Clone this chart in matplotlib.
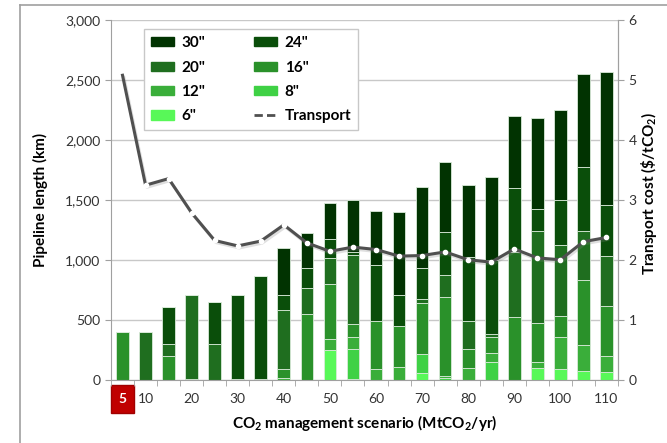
import matplotlib.pyplot as plt
import matplotlib.patheffects as pe
from matplotlib.lines import Line2D
from matplotlib.patches import Patch

plt.rcParams['font.family'] = ['Lato', 'DejaVu Sans']
plt.rcParams['mathtext.fontset'] = 'custom'
plt.rcParams['mathtext.rm'] = 'Lato'
plt.rcParams['mathtext.bf'] = 'Lato:bold'

scenarios = [5, 10, 15, 20, 25, 30, 35, 40, 45, 50, 55,
             60, 65, 70, 75, 80, 85, 90, 95, 100, 105, 110]
tick_labels = ['5', '10', '', '20', '', '30', '', '40', '', '50', '',
               '60', '', '70', '', '80', '', '90', '', '100', '', '110']

# pipeline length (km) by diameter
d6 = [0, 0, 0, 0, 0, 0, 0, 0, 0, 252, 12,
      0, 0, 65, 0, 0, 0, 0, 102, 93, 80, 73]
d8 = [0, 0, 0, 0, 0, 0, 0, 0, 0, 0, 250,
      0, 0, 153, 18, 0, 150, 0, 0, 0, 0, 0]
d12 = [0, 0, 0, 0, 0, 0, 0, 18, 0, 96, 103,
       98, 110, 0, 22, 100, 78, 0, 50, 267, 216, 131]
d16 = [400, 0, 205, 15, 0, 12, 12, 76, 554, 459, 103,
       398, 347, 430, 656, 163, 135, 527, 324, 180, 539, 413]
d20 = [0, 400, 100, 695, 302, 0, 0, 491, 216, 211, 578,
       0, 0, 31, 181, 234, 20, 543, 772, 589, 409, 423]
d24 = [0, 0, 305, 0, 355, 698, 861, 127, 170, 161, 25,
       461, 255, 256, 361, 530, 620, 528, 179, 375, 535, 422]
d30 = [0, 0, 0, 0, 0, 0, 0, 389, 285, 298, 433,
       455, 686, 677, 582, 596, 690, 606, 755, 750, 775, 1108]

# transport cost ($/tCO2)
transport = [5.08, 3.25, 3.36, 2.79, 2.33, 2.24, 2.32, 2.59, 2.29, 2.15, 2.22,
             2.18, 2.07, 2.08, 2.14, 2.01, 1.97, 2.19, 2.04, 2.01, 2.31, 2.38]

series = [('6"', d6, '#58f858'), ('8"', d8, '#3fd145'), ('12"', d12, '#3aae3a'),
          ('16"', d16, '#2a912a'), ('20"', d20, '#1f6e1f'), ('24"', d24, '#0a4e0a'),
          ('30"', d30, '#013301')]

fig = plt.figure(figsize=(6.67, 4.43), dpi=100)
ax = fig.add_axes([0.1664, 0.1411, 0.7601, 0.8138])
x = list(range(len(scenarios)))

bottom = [0] * len(x)
handles = {}
for name, vals, col in series:
    ax.bar(x, vals, 0.55, bottom=bottom, color=col,
           edgecolor='#d9ead9', linewidth=0.6, zorder=2)
    handles[name] = Patch(facecolor=col, edgecolor=col)
    bottom = [p + q for p, q in zip(bottom, vals)]

ax.set_xlim(-0.5, len(x) - 0.5)
ax.set_ylim(0, 3000)
ax.set_yticks(range(0, 3001, 500))
ax.set_yticklabels([f'{v:,}' for v in range(0, 3001, 500)])
ax.grid(axis='y', color='#c8c8c8', linewidth=1, zorder=0)
ax.set_axisbelow(True)
ax.set_xticks(x)
ax.set_xticklabels(tick_labels)
ax.set_xticks([i - 0.5 for i in x] + [len(x) - 0.5], minor=True)
ax.tick_params(axis='x', which='major', length=0, pad=9, labelsize=10, colors='#333333')
ax.tick_params(axis='x', which='minor', length=4, color='#a0a0a0')
ax.tick_params(axis='y', length=4, color='#a0a0a0', labelsize=10, labelcolor='#333333')
ax.spines['top'].set_visible(False)
for s in ['left', 'right', 'bottom']:
    ax.spines[s].set_color('#a0a0a0')

# red box round the first tick label
lbl = ax.get_xticklabels()[0]
lbl.set_color('white')
lbl.set_fontweight('bold')
lbl.set_bbox(dict(boxstyle='square,pad=0.55', facecolor='#c00000', edgecolor='#a00000'))

ax.set_ylabel('Pipeline length (km)', fontsize=11, fontweight='bold')
ax.yaxis.set_label_coords(-0.125, 0.5)
ax.set_xlabel(r'CO$_\mathbf{2}$ management scenario (MtCO$_\mathbf{2}$/yr)',
              fontsize=11, fontweight='bold', labelpad=6)

ax2 = ax.twinx()
ax2.set_ylim(0, 6)
ax2.set_yticks(range(0, 7))
ax2.tick_params(axis='y', length=4, color='#a0a0a0', labelsize=10, labelcolor='#333333')
for s in ['top', 'left', 'bottom']:
    ax2.spines[s].set_visible(False)
ax2.spines['right'].set_color('#a0a0a0')
ax2.plot(x, transport, color='#505050', linewidth=2.2, zorder=3,
         path_effects=[pe.SimpleLineShadow(offset=(1, -1.5), alpha=0.25, shadow_color='gray'),
                       pe.Normal()])
ax2.plot(x[1:], transport[1:], 'o', color='white', markersize=3, zorder=4)
ax2.set_ylabel(r'Transport cost (\$/tCO$_\mathbf{2}$)', fontsize=11, fontweight='bold',
               rotation=90, va='center', ha='center')
ax2.yaxis.set_label_coords(1.062, 0.52)

order = ['30"', '20"', '12"', '6"', '24"', '16"', '8"']
hs = [handles[k] for k in order]
labels = list(order)
hs.append(Line2D([0], [0], color='#505050', linewidth=2, linestyle=(0, (3, 1.5))))
labels.append('Transport')
leg = ax.legend(hs, labels, ncol=2, loc='upper left', bbox_to_anchor=(0.065, 0.974),
                borderaxespad=0, fancybox=False, framealpha=1, edgecolor='#c8c8c8',
                prop={'weight': 'bold', 'size': 11}, handlelength=1.5, handleheight=0.55,
                handletextpad=0.5, columnspacing=3.2, labelspacing=0.68, borderpad=0.45)
leg.set_zorder(5)

fig.add_artist(Line2D([20 / 667, 20 / 667], [0, 1 - 5 / 443], color='#a0a0a0', linewidth=1.2))
fig.add_artist(Line2D([20 / 667, 1], [1 - 5 / 443, 1 - 5 / 443], color='#a0a0a0', linewidth=1.2))

fig.savefig('out.png', dpi=100)
